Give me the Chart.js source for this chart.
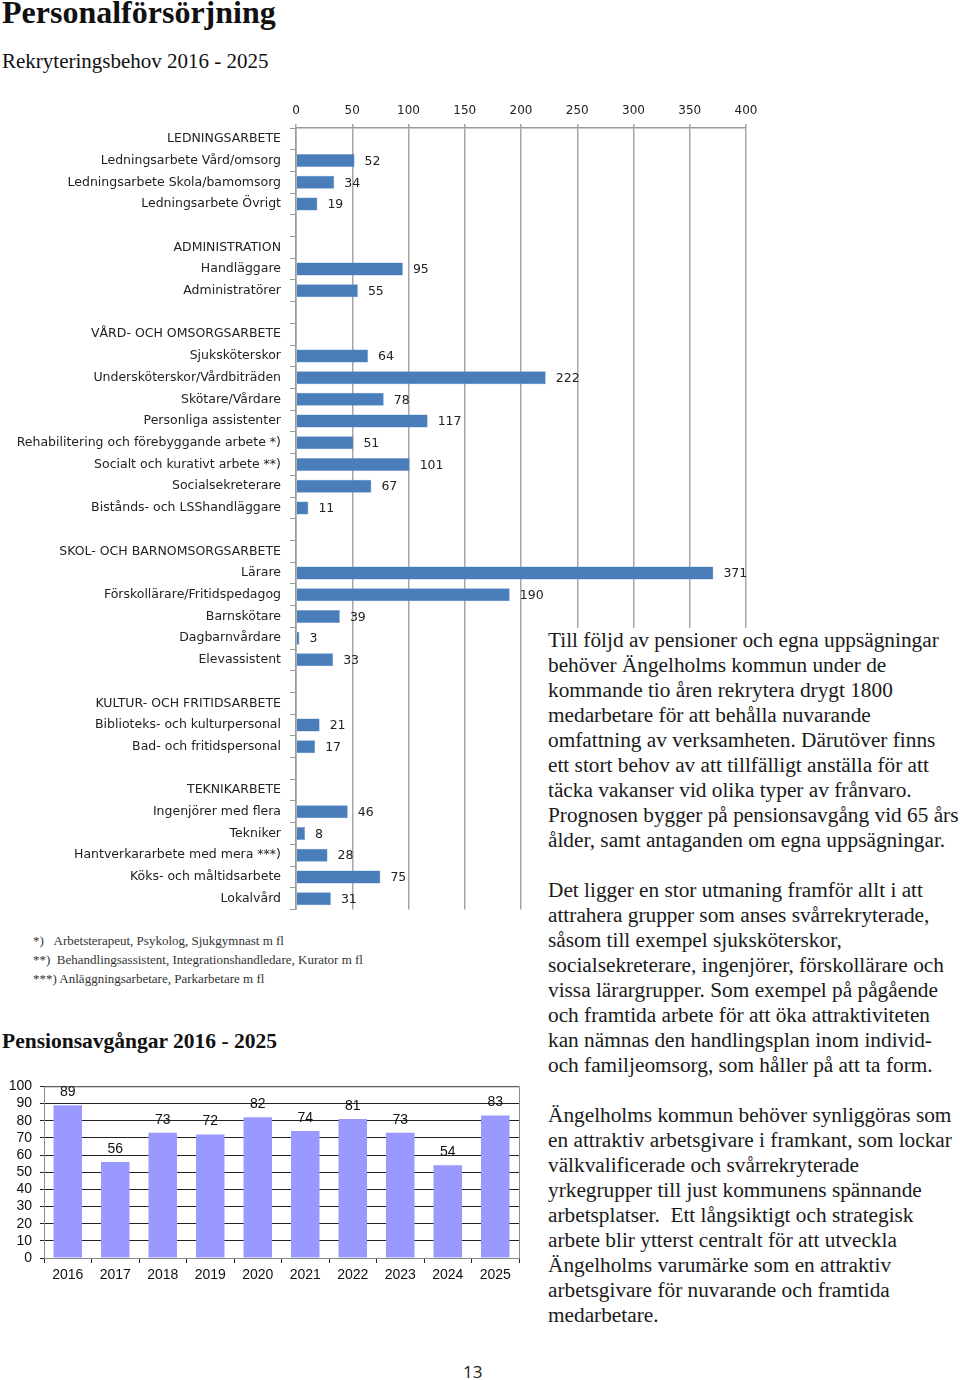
<!DOCTYPE html>
<html lang="sv">
<head>
<meta charset="utf-8">
<script src="https://cdn.jsdelivr.net/npm/chart.js@4.4.1/dist/chart.umd.min.js"></script>
<style>
  body { margin: 0; background: #fff; width: 960px; height: 1380px; position: relative; overflow: hidden; }
  .abs { position: absolute; }
  .serif { font-family: "Liberation Serif", "DejaVu Serif", serif; color: #111; white-space: nowrap; }
  #title { left: 2px; top: -6px; font-size: 32px; font-weight: bold; }
  #sub { left: 2px; top: 49px; font-size: 21px; }
  #sub2 { left: 2px; top: 1029px; font-size: 21.5px; font-weight: bold; }
  #notes { left: 33px; top: 931px; font-size: 13px; line-height: 19px; color: #333; }
  #body { left: 548px; top: 628px; width: 412px; height: 720px; background: #fff; font-size: 21.3px; line-height: 25px; color: #1a1a1a; }
  #body p { margin: 0 0 25px 0; }
  #page { left: 463px; top: 1360px; font-family: "Open Sans", sans-serif; font-size: 17px; color: #222; }
</style>
</head>
<body>
<div id="title" class="abs serif">Personalförsörjning</div>
<div id="sub" class="abs serif">Rekryteringsbehov 2016 - 2025</div>

<canvas id="needChart" class="abs" style="left:0;top:94px;" width="770" height="832"></canvas>

<div id="notes" class="abs serif">
  *)&nbsp;&nbsp;&nbsp;Arbetsterapeut, Psykolog, Sjukgymnast m fl<br>
  **)&nbsp;&nbsp;Behandlingsassistent, Integrationshandledare, Kurator m fl<br>
  ***) Anläggningsarbetare, Parkarbetare m fl
</div>

<div id="sub2" class="abs serif">Pensionsavgångar 2016 - 2025</div>
<canvas id="pensionChart" class="abs" style="left:0;top:1070px;" width="530" height="222"></canvas>

<div id="body" class="abs serif">
<p>Till följd av pensioner och egna uppsägningar<br>
behöver Ängelholms kommun under de<br>
kommande tio åren rekrytera drygt 1800<br>
medarbetare för att behålla nuvarande<br>
omfattning av verksamheten. Därutöver finns<br>
ett stort behov av att tillfälligt anställa för att<br>
täcka vakanser vid olika typer av frånvaro.<br>
Prognosen bygger på pensionsavgång vid 65 års<br>
ålder, samt antaganden om egna uppsägningar.</p>
<p>Det ligger en stor utmaning framför allt i att<br>
attrahera grupper som anses svårrekryterade,<br>
såsom till exempel sjuksköterskor,<br>
socialsekreterare, ingenjörer, förskollärare och<br>
vissa lärargrupper. Som exempel på pågående<br>
och framtida arbete för att öka attraktiviteten<br>
kan nämnas den handlingsplan inom individ-<br>
och familjeomsorg, som håller på att ta form.</p>
<p>Ängelholms kommun behöver synliggöras som<br>
en attraktiv arbetsgivare i framkant, som lockar<br>
välkvalificerade och svårrekryterade<br>
yrkegrupper till just kommunens spännande<br>
arbetsplatser.&nbsp; Ett långsiktigt och strategisk<br>
arbete blir ytterst centralt för att utveckla<br>
Ängelholms varumärke som en attraktiv<br>
arbetsgivare för nuvarande och framtida<br>
medarbetare.</p>
</div>

<div id="page" class="abs">13</div>

<script>
// Rekryteringsbehov 2016 - 2025 (group headers and blank rows have no value)
const jobLabels = [
  "LEDNINGSARBETE",
  "Ledningsarbete Vård/omsorg",
  "Ledningsarbete Skola/bamomsorg",
  "Ledningsarbete Övrigt",
  "",
  "ADMINISTRATION",
  "Handläggare",
  "Administratörer",
  "",
  "VÅRD- OCH OMSORGSARBETE",
  "Sjuksköterskor",
  "Undersköterskor/Vårdbiträden",
  "Skötare/Vårdare",
  "Personliga assistenter",
  "Rehabilitering och förebyggande arbete *)",
  "Socialt och kurativt arbete **)",
  "Socialsekreterare",
  "Bistånds- och LSShandläggare",
  "",
  "SKOL- OCH BARNOMSORGSARBETE",
  "Lärare",
  "Förskollärare/Fritidspedagog",
  "Barnskötare",
  "Dagbarnvårdare",
  "Elevassistent",
  "",
  "KULTUR- OCH FRITIDSARBETE",
  "Biblioteks- och kulturpersonal",
  "Bad- och fritidspersonal",
  "",
  "TEKNIKARBETE",
  "Ingenjörer med flera",
  "Tekniker",
  "Hantverkararbete med mera ***)",
  "Köks- och måltidsarbete",
  "Lokalvård",
];
const jobNeed = [
  null, 52, 34, 19,
  null,
  null, 95, 55,
  null,
  null, 64, 222, 78, 117, 51, 101, 67, 11,
  null,
  null, 371, 190, 39, 3, 33,
  null,
  null, 21, 17,
  null,
  null, 46, 8, 28, 75, 31,
];
const needTicks = [0, 50, 100, 150, 200, 250, 300, 350, 400];

// Pensionsavgångar 2016 - 2025
const years = ["2016", "2017", "2018", "2019", "2020", "2021", "2022", "2023", "2024", "2025"];
const retirements = [89, 56, 73, 72, 82, 74, 81, 73, 54, 83];
const retireTicks = [0, 10, 20, 30, 40, 50, 60, 70, 80, 90, 100];

// writes the value next to / above each bar
const valueLabels = {
  id: "valueLabels",
  afterDatasetsDraw(chart, args, opts) {
    const ctx = chart.ctx;
    const meta = chart.getDatasetMeta(0);
    const values = chart.data.datasets[0].data;
    ctx.save();
    ctx.font = opts.font;
    ctx.fillStyle = opts.color;
    meta.data.forEach((bar, i) => {
      if (values[i] === null) return;
      if (opts.side === "right") {
        ctx.textAlign = "left";
        ctx.textBaseline = "middle";
        ctx.fillText(values[i], bar.x + opts.offset, bar.y + 1);
      } else {
        ctx.textAlign = "center";
        ctx.textBaseline = "bottom";
        ctx.fillText(values[i], bar.x, bar.y - opts.offset);
      }
    });
    ctx.restore();
  },
};

// gray frame round the plot area of the pension chart
const plotFrame = {
  id: "plotFrame",
  beforeDatasetsDraw(chart) {
    const { ctx, chartArea: a } = chart;
    ctx.save();
    ctx.strokeStyle = "#8c8c8c";
    ctx.lineWidth = 1;
    ctx.strokeRect(a.left + 0.5, a.top + 0.5, a.right - a.left, a.bottom - a.top);
    ctx.restore();
  },
};

new Chart(document.getElementById("needChart"), {
  type: "bar",
  data: {
    labels: jobLabels,
    datasets: [
      {
        data: jobNeed,
        backgroundColor: "#4a7ebb",
        borderColor: "#6a96cc",
        borderWidth: 0.5,
        barPercentage: 0.6,
        categoryPercentage: 1,
      },
    ],
  },
  options: {
    indexAxis: "y",
    responsive: false,
    animation: false,
    layout: { padding: { left: 0, right: 24, top: 0, bottom: 0 } },
    plugins: {
      legend: { display: false },
      tooltip: { enabled: false },
      valueLabels: { side: "right", offset: 10, font: "12.5px 'DejaVu Sans'", color: "#222" },
    },
    scales: {
      x: {
        position: "top",
        min: 0,
        max: 400,
        afterBuildTicks: (s) => { s.ticks = needTicks.map((v) => ({ value: v })); },
        afterFit: (s) => { s.height = 34; },
        border: { color: "#9a9a9a", width: 1.5 },
        grid: { color: "#a6a6a6", lineWidth: 1.5, tickLength: 4 },
        ticks: { color: "#222", padding: 6, font: { family: "DejaVu Sans", size: 12 } },
      },
      y: {
        afterFit: (s) => { s.width = 296; },
        border: { color: "#9a9a9a", width: 1.5 },
        grid: { display: true, drawOnChartArea: false, offset: true, color: "#9a9a9a", tickLength: 6 },
        ticks: { autoSkip: false, color: "#222", padding: 9, font: { family: "DejaVu Sans", size: 12.5 } },
      },
    },
  },
  plugins: [valueLabels],
});

new Chart(document.getElementById("pensionChart"), {
  type: "bar",
  data: {
    labels: years,
    datasets: [
      {
        data: retirements,
        backgroundColor: "#9999ff",
        barPercentage: 0.6,
        categoryPercentage: 1,
      },
    ],
  },
  options: {
    responsive: false,
    animation: false,
    layout: { padding: { left: 0, right: 11, top: 14, bottom: 0 } },
    plugins: {
      legend: { display: false },
      tooltip: { enabled: false },
      valueLabels: { side: "top", offset: 6, font: "14px 'Liberation Sans'", color: "#111" },
    },
    scales: {
      x: {
        afterFit: (s) => { s.height = 34; },
        border: { color: "#222", width: 1 },
        grid: { display: true, drawOnChartArea: false, offset: true, color: "#222", tickLength: 5 },
        ticks: { color: "#111", padding: 4, font: { family: "Liberation Sans", size: 14 } },
      },
      y: {
        min: 0,
        max: 100,
        afterBuildTicks: (s) => { s.ticks = retireTicks.map((v) => ({ value: v })); },
        afterFit: (s) => { s.width = 44; },
        border: { color: "#222", width: 1 },
        grid: { color: "#222", lineWidth: 1, tickLength: 4 },
        ticks: { autoSkip: false, color: "#111", padding: 8, font: { family: "Liberation Sans", size: 14 } },
      },
    },
  },
  plugins: [plotFrame, valueLabels],
});
</script>
</body>
</html>
